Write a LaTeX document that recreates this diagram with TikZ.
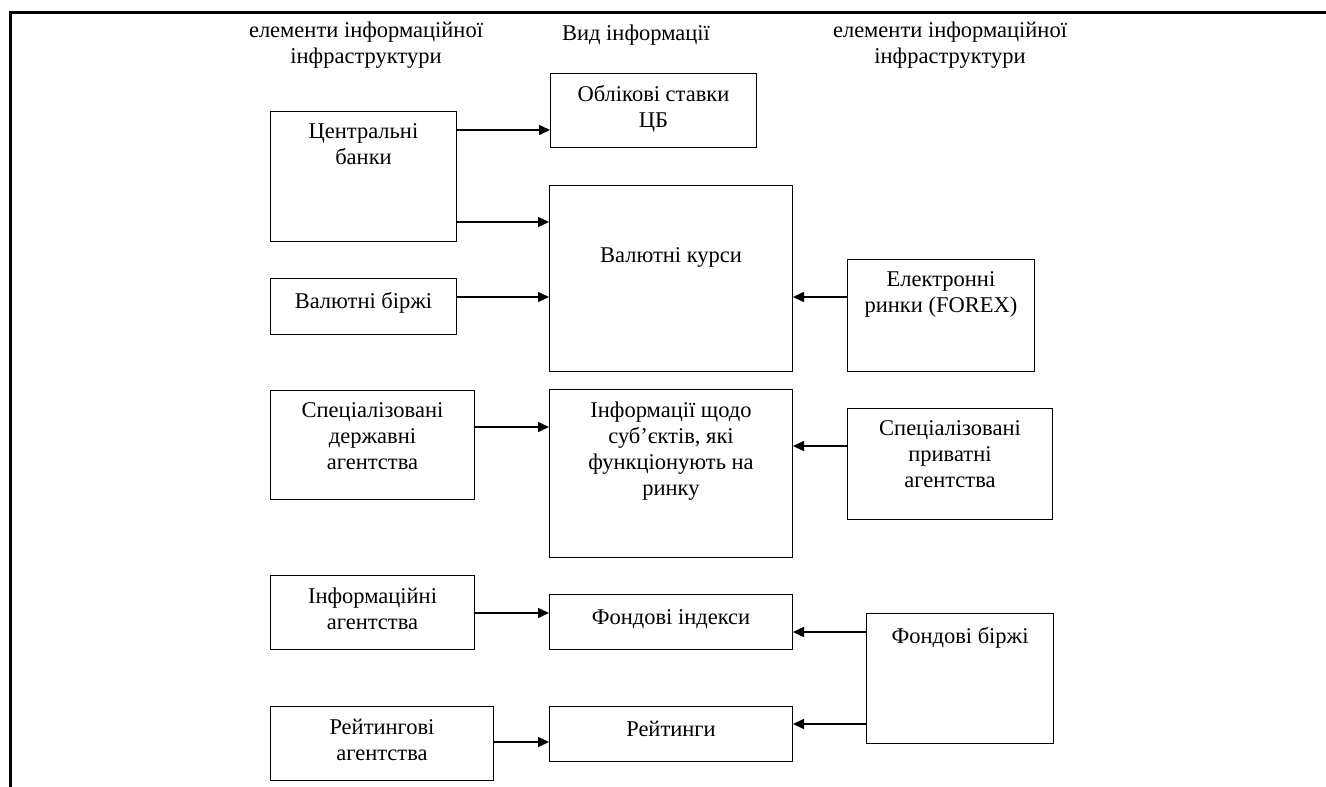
\documentclass[tikz,border=0pt]{standalone}
\usepackage{fontspec}
\setmainfont{Liberation Serif}
\usetikzlibrary{arrows.meta,positioning}

\tikzset{
  box/.style={draw, line width=1pt, inner sep=0pt, anchor=north west},
  txt/.style={align=center, inner sep=0pt, font=\fontsize{22.5}{26}\selectfont,
    execute at begin node=\strut},
  arr/.style={-{Triangle[length=11pt,width=10pt]}, line width=1.5pt},
}

\begin{document}
\begin{tikzpicture}[x=1pt, y=-1pt]
  \useasboundingbox (0,0) rectangle (1326,787);
  \draw[line width=3pt] (1326,12.5) -- (10,12.5) -- (10,787);

  % headings
  \node[txt, anchor=north] (hleft) at (366,22) {елементи інформаційної\\інфраструктури};
  \node[txt, anchor=north] (hmid) at (636,22) {Вид інформації};
  \node[txt, anchor=north] (hright) at (950,22) {елементи інформаційної\\інфраструктури};

  % boxes
  \node[box, minimum width=186pt, minimum height=130pt] (cb) at (270,111) {};
  \node[box, minimum width=206pt, minimum height=74pt] (ob) at (550,73) {};
  \node[box, minimum width=243pt, minimum height=186pt] (vk) at (549,185) {};
  \node[box, minimum width=186pt, minimum height=56pt] (vb) at (270,278) {};
  \node[box, minimum width=187pt, minimum height=112pt] (fx) at (847,259) {};
  \node[box, minimum width=204pt, minimum height=109pt] (sda) at (270,390) {};
  \node[box, minimum width=243pt, minimum height=168pt] (inf) at (549,389) {};
  \node[box, minimum width=205pt, minimum height=111pt] (spa) at (847,408) {};
  \node[box, minimum width=204pt, minimum height=74pt] (ia) at (270,575) {};
  \node[box, minimum width=243pt, minimum height=55pt] (fi) at (549,594) {};
  \node[box, minimum width=187pt, minimum height=130pt] (fb) at (866,613) {};
  \node[box, minimum width=223pt, minimum height=74pt] (ra) at (270,706) {};
  \node[box, minimum width=243pt, minimum height=55pt] (rt) at (549,706) {};

  % texts
  \node[txt, below=12.5pt of cb.north] (cbt) {Центральні\\банки};
  \node[txt, below=12.5pt of ob.north] (obt) {Облікові ставки\\ЦБ};
  \node[txt, below=59pt of vk.north] (vkt) {Валютні курси};
  \node[txt, below=12.5pt of vb.north] (vbt) {Валютні біржі};
  \node[txt, below=12.5pt of fx.north] (fxt) {Електронні\\ринки (FOREX)};
  \node[txt, below=12.5pt of sda.north] (sdat) {Спеціалізовані\\державні\\агентства};
  \node[txt, below=12.5pt of inf.north] (inft) {Інформації щодо\\суб’єктів, які\\функціонують на\\ринку};
  \node[txt, below=12.5pt of spa.north] (spat) {Спеціалізовані\\приватні\\агентства};
  \node[txt, below=12.5pt of ia.north] (iat) {Інформаційні\\агентства};
  \node[txt, below=12.5pt of fi.north] (fit) {Фондові індекси};
  \node[txt, below=12.5pt of fb.north] (fbt) {Фондові біржі};
  \node[txt, below=12.5pt of ra.north] (rat) {Рейтингові\\агентства};
  \node[txt, below=12.5pt of rt.north] (rtt) {Рейтинги};

  % arrows
  \draw[arr] (cb.east |- 0,130) -- (ob.west |- 0,130);
  \draw[arr] (cb.east |- 0,222) -- (vk.west |- 0,222);
  \draw[arr] (vb.east |- 0,297) -- (vk.west |- 0,297);
  \draw[arr] (fx.west |- 0,297) -- (vk.east |- 0,297);
  \draw[arr] (sda.east |- 0,427) -- (inf.west |- 0,427);
  \draw[arr] (spa.west |- 0,446) -- (inf.east |- 0,446);
  \draw[arr] (ia.east |- 0,613) -- (fi.west |- 0,613);
  \draw[arr] (fb.west |- 0,632) -- (fi.east |- 0,632);
  \draw[arr] (ra.east |- 0,742) -- (rt.west |- 0,742);
  \draw[arr] (fb.west |- 0,724) -- (rt.east |- 0,724);
\end{tikzpicture}
\end{document}
